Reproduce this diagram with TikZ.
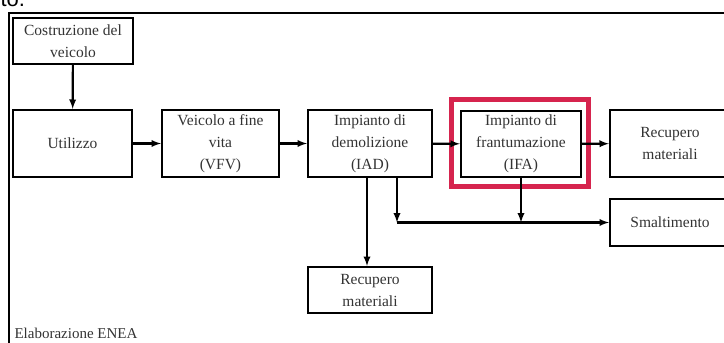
\documentclass[tikz,border=0pt]{standalone}
\usepackage{fontspec}
\setmainfont{Liberation Serif}
\newfontfamily\testofont{Liberation Sans}
\usepackage{tikz}
\usepackage{xcolor}
\usetikzlibrary{positioning, arrows}
\definecolor{rossoIFA}{RGB}{214,36,78}

\begin{document}
\begin{tikzpicture}[x=1pt, y=-1pt,
     blocco/.style={draw, line width=2.2pt, align=center, inner sep=2pt,
       minimum width=120pt, minimum height=67pt, text=black!80,
       font=\fontsize{15.5}{22}\selectfont},
     bassa/.style={minimum height=46pt},
     freccia/.style={-latex, line width=2.2pt}]
     \useasboundingbox (0,0) rectangle (724,343);
     % cornice esterna
     \draw[line width=2.4pt] (9,343) -- (9,13) -- (740,13);
     \node[anchor=base west, font=\testofont\fontsize{22}{22}\selectfont] (resto) at (-3,6) {to.};
     % blocchi
     \node[blocco, bassa] (costr) at (73,41) {Costruzione del\\veicolo};
     \node[blocco, minimum width=119pt] (util) at (72.5,143.5) {Utilizzo};
     \node[blocco, minimum width=117pt] (vfv) at (220.5,143.5) {Veicolo a fine\\vita\\(VFV)};
     \node[blocco, minimum width=124pt] (iad) at (370,143.5) {Impianto di\\demolizione\\(IAD)};
     \node[blocco, minimum height=66pt] (ifa) at (521,144) {Impianto di\\frantumazione\\(IFA)};
     \node[blocco] (recdx) at (670,143.5) {Recupero\\materiali};
     \node[blocco, bassa, minimum height=47pt] (smalt) at (670,222.5) {Smaltimento};
     \node[blocco, bassa, minimum width=124pt] (recsotto) at (370,290) {Recupero\\materiali};
     % evidenziazione IFA
     \draw[rossoIFA, line width=5pt] (451,99) rectangle (588,186);
     % frecce
     \draw[freccia] (costr) -- (util);
     \draw[freccia] (util) -- (vfv);
     \draw[freccia] (vfv) -- (iad);
     \draw[freccia] (iad) -- (ifa);
     \draw[freccia] (ifa) -- (recdx);
     \draw[freccia] ([xshift=-3pt]iad.south) -- ([xshift=-3pt]recsotto.north);
     \coordinate (giunto) at (397,222.5);
     \draw[freccia] (iad.south -| giunto) -- (giunto);
     \draw[freccia] (giunto) -- (smalt.west);
     \draw[freccia] (ifa.south) -- (ifa.south |- giunto);
     \node[anchor=base west, text=black!80, font=\fontsize{15}{17}\selectfont] (fonte) at (11,338) {Elaborazione ENEA};
\end{tikzpicture}
\end{document}
